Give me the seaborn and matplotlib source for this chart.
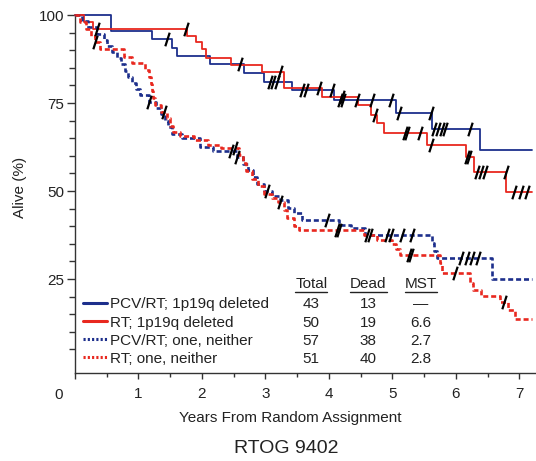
import numpy as np
import pandas as pd
import matplotlib
matplotlib.use("Agg")
import matplotlib.pyplot as plt
from matplotlib.path import Path
from matplotlib.lines import Line2D
import seaborn as sns

# Kaplan-Meier step curves: event times (years) and percent alive after each step
years_pcv_codel = [0, 0.56, 1.21, 1.53, 1.60, 2.12, 2.66, 2.98, 3.41, 4.08, 5.05, 5.62, 6.38]
alive_pcv_codel = [100, 95.4, 93.1, 90.7, 88.3, 86.0, 83.6, 81.1, 78.6, 75.9, 72.2, 67.5, 61.6]
censor_pcv_codel = [1.45, 2.60, 3.07, 3.12, 3.18, 3.57, 3.63, 4.05, 4.18, 4.22, 4.44, 4.68,
                    4.97, 5.10, 5.60, 5.66, 5.72, 5.78, 5.83, 6.22]

years_rt_codel = [0, 0.14, 0.28, 1.77, 1.90, 2.00, 2.07, 2.46, 2.95, 3.29, 3.89, 4.45,
                  4.66, 4.76, 4.86, 5.54, 6.15, 6.28, 6.79]
alive_rt_codel = [100, 98.0, 96.0, 94.1, 92.2, 90.3, 87.8, 85.9, 83.7, 79.2, 76.8, 74.5,
                  71.7, 69.2, 66.4, 63.1, 59.7, 55.5, 49.6]
censor_rt_codel = [0.35, 1.75, 3.23, 3.84, 4.20, 4.73, 5.20, 5.23, 5.44, 5.60, 6.17, 6.20,
                   6.33, 6.40, 6.46, 6.78, 6.92, 7.02, 7.12]

years_pcv_other = [0, 0.11, 0.20, 0.35, 0.45, 0.50, 0.58, 0.66, 0.72, 0.78, 0.84, 0.90,
                   0.96, 1.03, 1.16, 1.28, 1.35, 1.42, 1.47, 1.53, 1.69, 1.97, 2.18, 2.55,
                   2.65, 2.72, 2.81, 2.86, 2.97, 3.10, 3.23, 3.35, 3.45, 3.58, 4.15, 4.35,
                   4.56, 5.62, 5.66, 5.70, 6.56]
alive_pcv_other = [100, 98.2, 96.5, 94.7, 93.0, 91.2, 89.5, 87.7, 86.0, 84.2, 82.5, 80.7,
                   79.0, 77.2, 75.4, 73.6, 71.8, 70.0, 68.1, 66.3, 65.0, 62.6, 61.5, 59.6,
                   57.8, 55.9, 53.9, 52.0, 50.0, 48.6, 47.4, 45.3, 43.7, 41.8, 40.3, 39.4,
                   37.6, 35.1, 33.0, 30.9, 24.9]
censor_pcv_other = [1.17, 2.45, 2.55, 3.02, 3.97, 4.65, 4.91, 4.97, 5.15, 5.31, 6.08, 6.17,
                    6.25, 6.35]

years_rt_other = [0, 0.08, 0.18, 0.25, 0.32, 0.40, 0.77, 0.90, 1.10, 1.17, 1.19, 1.21,
                  1.23, 1.26, 1.36, 1.45, 1.50, 1.55, 1.65, 1.87, 2.10, 2.30, 2.58, 2.64,
                  2.70, 2.78, 2.88, 2.98, 3.10, 3.20, 3.29, 3.34, 3.45, 3.52, 4.55, 4.75,
                  5.00, 5.05, 5.12, 5.75, 5.78, 6.22, 6.27, 6.40, 6.70, 6.82, 6.93]
alive_rt_other = [100, 98.0, 96.1, 94.1, 92.2, 90.2, 88.2, 86.3, 84.3, 82.4, 80.4, 78.4,
                  76.5, 74.5, 72.5, 70.6, 68.6, 66.7, 65.6, 64.5, 63.2, 62.2, 60.2, 58.0,
                  55.8, 53.5, 51.3, 49.1, 48.0, 46.8, 44.6, 42.4, 40.1, 38.9, 37.6, 36.2,
                  34.9, 33.5, 31.8, 29.5, 26.6, 24.0, 21.9, 20.2, 18.4, 16.2, 13.5]
censor_rt_other = [0.32, 1.40, 2.52, 3.23, 4.12, 4.16, 4.60, 5.26, 5.29, 5.99, 6.75]

group_labels = ["PCV/RT; 1p19q deleted", "RT; 1p19q deleted",
                "PCV/RT; one, neither", "RT; one, neither"]
n_total = ["43", "50", "57", "51"]
n_dead = ["13", "19", "38", "40"]
mst = ["\u2014", "6.6", "2.7", "2.8"]
table_headers = ["Total", "Dead", "MST"]

BLUE = "#1d2f8c"
RED = "#e8281f"
INK = "#222222"

sns.set_theme(style="ticks")
plt.rcParams["font.family"] = ["Liberation Sans", "DejaVu Sans"]

fig = plt.figure(figsize=(5.36, 4.61), dpi=100)
ax = fig.add_axes([75 / 536, 88 / 461, (536 - 75) / 536, 358 / 461])

dash_style = (0, (1.9, 1.1))
series = [
    (years_pcv_codel, alive_pcv_codel, censor_pcv_codel, BLUE, "-", 1.3),
    (years_rt_codel, alive_rt_codel, censor_rt_codel, RED, "-", 1.3),
    (years_pcv_other, alive_pcv_other, censor_pcv_other, BLUE, dash_style, 1.9),
    (years_rt_other, alive_rt_other, censor_rt_other, RED, dash_style, 1.9),
]

x_end = 7.2
censor_marker = Path([(-0.32, -1.0), (0.32, 1.0)], [Path.MOVETO, Path.LINETO])

for (t, s, cens, col, ls, lw), lab in zip(series, group_labels):
    df = pd.DataFrame({"years": list(t) + [x_end], "alive": list(s) + [s[-1]]})
    sns.lineplot(data=df, x="years", y="alive", ax=ax, color=col, linestyle=ls,
                 linewidth=lw, drawstyle="steps-post", estimator=None, sort=False,
                 errorbar=None, clip_on=False, zorder=3)
    # censored observations sit on the step curve
    idx = np.searchsorted(np.asarray(t), np.asarray(cens), side="right") - 1
    ax.plot(cens, np.asarray(s)[idx], linestyle="none", marker=censor_marker,
            markersize=9.8, markeredgecolor="black", markeredgewidth=1.6,
            zorder=5, clip_on=False)

ax.set_xlim(0, 7.26)
ax.set_ylim(-1.7, 100)
sns.despine(ax=ax)
for sp in ("left", "bottom"):
    ax.spines[sp].set_color("#333333")
    ax.spines[sp].set_linewidth(1.0)

ax.set_xticks(range(8))
ax.set_xticklabels([""] + [str(i) for i in range(1, 8)])
ax.set_xticks(np.arange(0.5, 7.5, 1.0), minor=True)
ax.set_yticks([25, 50, 75, 100])
ax.set_yticks(np.arange(5, 100, 5), minor=True)
ax.tick_params(axis="x", which="major", direction="out", length=4, width=1,
               colors="#333333", labelcolor=INK, labelsize=11, pad=6)
ax.tick_params(axis="x", which="minor", direction="out", length=3, width=1, colors="#333333")
ax.tick_params(axis="y", which="major", direction="out", length=6, width=1,
               colors="#333333", labelcolor=INK, labelsize=11, pad=2)
ax.tick_params(axis="y", which="minor", direction="out", length=4, width=1, colors="#333333")

# the origin label sits left of the axis
ax.annotate("0", xy=(0, 0), xycoords=("data", "axes fraction"), xytext=(-12, -10.5),
            textcoords="offset points", ha="center", va="top", fontsize=11, color=INK)

ax.set_ylabel("Alive (%)", fontsize=11, color=INK)
ax.yaxis.set_label_coords(-0.104, 0.518)
ax.set_xlabel("Years From Random Assignment", fontsize=11, color=INK)
ax.xaxis.set_label_coords(0.467, -0.126)
ax.xaxis.label.set_va("center")

fig.text(286.5 / 536, 1 - 448 / 461, "RTOG 9402", ha="center", va="center",
         fontsize=14, color=INK)

handles = [
    Line2D([], [], color=BLUE, lw=2.2, linestyle="-"),
    Line2D([], [], color=RED, lw=2.2, linestyle="-"),
    Line2D([], [], color=BLUE, lw=2.2, linestyle=(0, (0.7, 0.7))),
    Line2D([], [], color=RED, lw=2.2, linestyle=(0, (0.7, 0.7))),
]
leg = ax.legend(handles, group_labels, loc="lower left",
                bbox_to_anchor=(8 / 461, 0.02), borderaxespad=0, borderpad=0,
                frameon=False, fontsize=11, handlelength=1.6, handletextpad=0.2,
                labelspacing=0.27, labelcolor=INK)

# survival table aligned with the legend rows
fig.canvas.draw()
inv = ax.transAxes.inverted()
row_y = []
for txt in leg.get_texts():
    bb = txt.get_window_extent()
    row_y.append(inv.transform((0, (bb.y0 + bb.y1) / 2))[1])
row_step = row_y[0] - row_y[1]
col_x = [3.72, 4.62, 5.45]
for cx, col_vals in zip(col_x, (n_total, n_dead, mst)):
    for ry, v in zip(row_y, col_vals):
        ax.text(cx, ry, v, transform=ax.get_xaxis_transform(), ha="center", va="center",
                fontsize=11, color=INK)
header_y = row_y[0] + row_step * 1.15
for cx, h in zip(col_x, table_headers):
    ht = ax.text(cx, header_y, h, transform=ax.get_xaxis_transform(), ha="center",
                 va="center", fontsize=11, color=INK)
    fig.canvas.draw()
    bb = ht.get_window_extent()
    (x0, y0), (x1, _) = inv.transform([(bb.x0, bb.y0), (bb.x1, bb.y1)])
    ax.plot([x0, x1], [y0 - 0.004, y0 - 0.004], transform=ax.transAxes, color=INK,
            lw=1.0, clip_on=False)

fig.savefig("out.png", dpi=100)
